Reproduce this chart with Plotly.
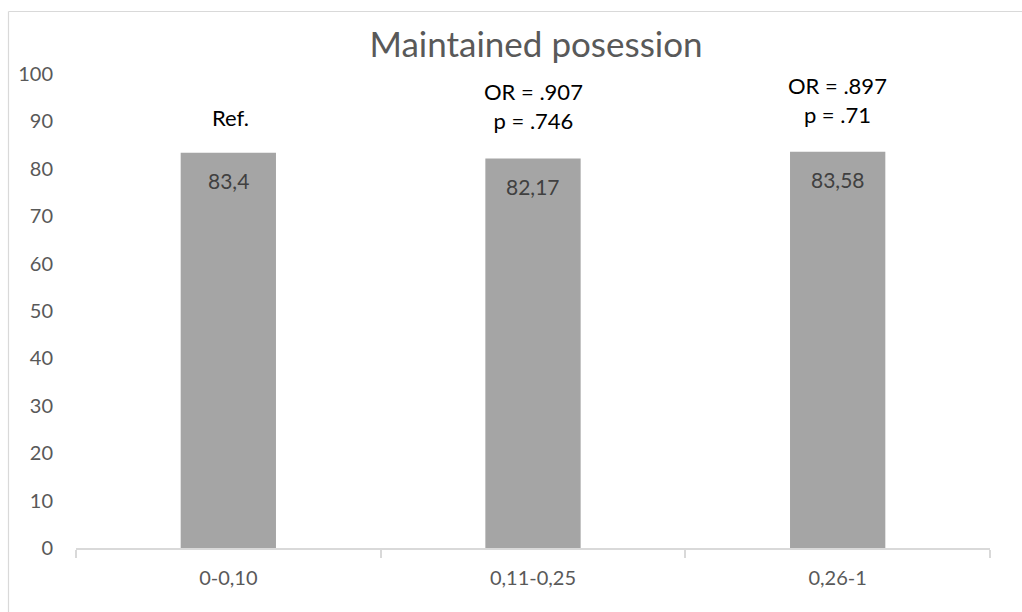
import plotly.graph_objects as go

# Data
categories = ["0-0,10", "0,11-0,25", "0,26-1"]
possession_pct = [83.4, 82.17, 83.58]
stat_labels = ["Ref.", "OR = .907<br>p = .746", "OR = .897<br>p = .71"]
y_ticks = [0, 10, 20, 30, 40, 50, 60, 70, 80, 90, 100]

W, H = 1022, 612
M_L, M_R, M_T, M_B = 76, 32, 74, 64
plot_w = W - M_L - M_R
plot_h = H - M_T - M_B

BAR = "#a5a5a5"
AXIS = "#d9d9d9"
TXT = "#595959"
FONT = "Lato"

fig = go.Figure(
    go.Bar(
        x=categories,
        y=possession_pct,
        width=0.3128,
        marker=dict(color=BAR, line=dict(width=0)),
        hoverinfo="x+y",
    )
)

annotations = []
# value labels just inside the top of each bar
for cat, val in zip(categories, possession_pct):
    annotations.append(dict(
        x=cat, y=val, xref="x", yref="y",
        text=f"{val:g}".replace(".", ","),
        showarrow=False, yanchor="middle", yshift=-28,
        font=dict(family=FONT, size=21, color="#404040"),
    ))

# odds-ratio / p-value labels above bars (y-centre of each block, in data units)
stat_y = [90.9, 93.3, 94.5]
for cat, lab, sy in zip(categories, stat_labels, stat_y):
    annotations.append(dict(
        x=cat, y=sy, xref="x", yref="y",
        text=lab, showarrow=False, yanchor="middle", xshift=2 if lab == "Ref." else 0,
        font=dict(family=FONT, size=22, color="#000000"),
    ))

# outer chart border (top and left edges)
bx = (8.5 - M_L) / plot_w
by = (H - M_B - 11.5) / plot_h
shapes = [
    dict(type="line", xref="paper", yref="paper", x0=bx, x1=(W - M_L) / plot_w + 0.01,
         y0=by, y1=by, line=dict(color=AXIS, width=1.2)),
    dict(type="line", xref="paper", yref="paper", x0=bx, x1=bx,
         y0=by, y1=-M_B / plot_h - 0.01, line=dict(color=AXIS, width=1.2)),
]

fig.update_layout(
    width=W, height=H,
    margin=dict(l=M_L, r=M_R, t=M_T, b=M_B),
    paper_bgcolor="white", plot_bgcolor="white",
    showlegend=False,
    title=dict(
        text="Maintained posession",
        x=(536 - M_L) / plot_w, xref="paper", xanchor="center",
        y=1 - 45 / H, yanchor="middle",
        font=dict(family=FONT, size=35, color=TXT),
    ),
    xaxis=dict(
        type="category",
        showgrid=False,
        showline=True, linecolor=AXIS, linewidth=1.5,
        ticks="outside", tickson="boundaries", ticklen=8, tickwidth=1.5, tickcolor=AXIS,
        tickfont=dict(family=FONT, size=20, color=TXT),
        ticklabelstandoff=11,
        fixedrange=True,
    ),
    yaxis=dict(
        range=[0, 100],
        tickvals=y_ticks,
        showgrid=False, zeroline=False, showline=False,
        ticks="",
        tickfont=dict(family=FONT, size=20, color=TXT),
        ticklabelstandoff=22,
        fixedrange=True,
    ),
    annotations=annotations,
    shapes=shapes,
)

fig.write_html("out.html")
